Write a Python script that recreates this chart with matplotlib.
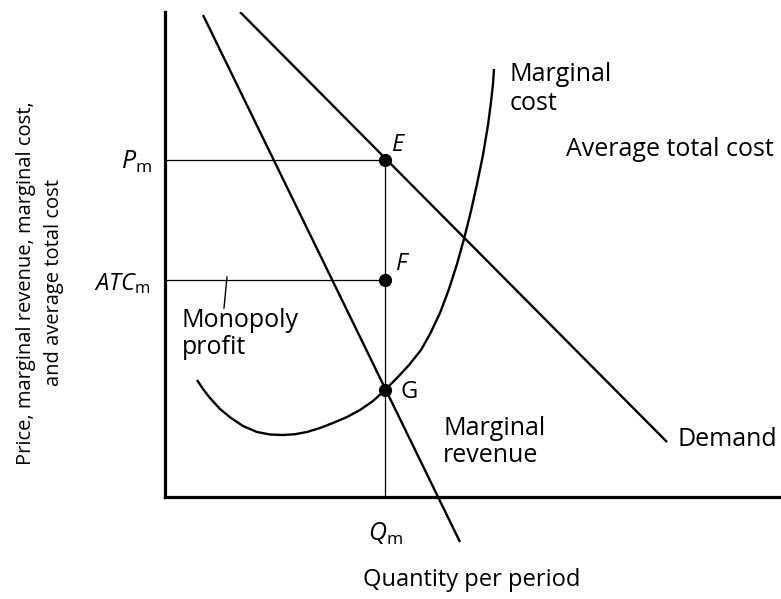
import numpy as np
import matplotlib
matplotlib.use('Agg')
import matplotlib.pyplot as plt

plt.rcParams['font.family'] = ['Open Sans', 'DejaVu Sans']
plt.rcParams['mathtext.fontset'] = 'custom'
plt.rcParams['mathtext.rm'] = 'Open Sans'
plt.rcParams['mathtext.it'] = 'Open Sans:italic'

# Curves (quantity, price) in diagram units
demand_q = [75, 502]
demand_p = [485, 55]
mr_q = [38, 295]
mr_p = [482, -45]
mc_q = [32, 38, 45, 55, 66, 78, 92, 105, 118, 130, 142, 155, 168, 182, 195,
        208, 220, 232, 244, 256, 265, 275, 284, 292, 299, 306, 312, 318, 323,
        326, 328, 329]
mc_p = [117, 108, 99, 88, 79, 71, 65, 62.5, 62, 62.8, 65, 69, 74, 80, 87,
        96, 107, 119, 132, 147, 163, 184, 208, 233, 258, 286, 313, 342, 372,
        395, 413, 428]

# Monopoly output, price and average total cost
q_m = 220
p_m = 337
atc_m = 217
g_p = 107

fig = plt.figure(figsize=(7.81, 5.99), dpi=100)
ax = fig.add_axes([165 / 781, 102 / 599, 616 / 781, 485 / 599])
ax.set_xlim(0, 616)
ax.set_ylim(0, 485)
ax.spines['top'].set_visible(False)
ax.spines['right'].set_visible(False)
ax.spines['left'].set_linewidth(2.3)
ax.spines['bottom'].set_linewidth(2.3)
ax.set_xticks([])
ax.set_yticks([])

ax.plot(demand_q, demand_p, color='black', lw=1.7, solid_capstyle='butt')
ax.plot(mr_q, mr_p, color='black', lw=1.7, clip_on=False, solid_capstyle='butt')
ax.plot(mc_q, mc_p, color='black', lw=1.7, solid_capstyle='butt',
        solid_joinstyle='round')

# Guide lines to Pm, ATCm and Qm
ax.plot([0, q_m], [p_m, p_m], color='black', lw=0.9)
ax.plot([0, q_m], [atc_m, atc_m], color='black', lw=0.9)
ax.plot([q_m, q_m], [0, p_m], color='black', lw=0.9)

ax.plot([q_m, q_m, q_m], [p_m, atc_m, g_p], 'o', color='black', ms=8.5)

ax.text(q_m + 7, p_m + 3, 'E', fontsize=17, style='italic', va='bottom')
ax.text(q_m + 11, atc_m + 4, 'F', fontsize=17, style='italic', va='bottom')
ax.text(q_m + 16, g_p - 2, 'G', fontsize=17, va='center')

ax.text(-13, p_m - 2, r'$\mathit{P}_{\mathrm{m}}$', fontsize=18, ha='right', va='center')
ax.text(-15, atc_m - 4, r'$\mathit{ATC}_{\mathrm{m}}$', fontsize=17, ha='right', va='center')
ax.text(q_m, -24, r'$\mathit{Q}_{\mathrm{m}}$', fontsize=18, ha='center', va='top', clip_on=False)

# Monopoly profit label with its leader
ax.plot([62, 59], [220, 189], color='black', lw=1.0)
ax.text(17, 163, 'Monopoly\nprofit', fontsize=18, va='center', linespacing=1.15)

ax.text(345, 408, 'Marginal\ncost', fontsize=18, va='center', linespacing=1.25)
ax.text(401, 347, 'Average total cost', fontsize=18, va='center')
ax.text(278, 55, 'Marginal\nrevenue', fontsize=18, va='center', linespacing=1.15)
ax.text(512, 57, 'Demand', fontsize=18, va='center')

fig.text(472 / 781, 1 - 580 / 599, 'Quantity per period', fontsize=17,
         ha='center', va='center')
fig.text(40 / 781, 1 - 283 / 599,
         'Price, marginal revenue, marginal cost,\nand average total cost',
         fontsize=14.5, rotation=90, ha='center', va='center',
         multialignment='center', linespacing=1.5)

fig.savefig('out.png', dpi=100)
